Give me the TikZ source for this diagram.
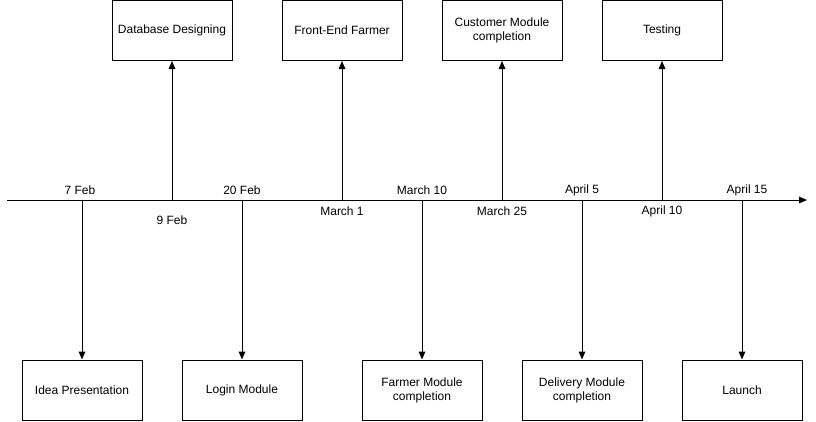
\documentclass[tikz,border=0pt]{standalone}
\usepackage{fontspec}
\setmainfont{Liberation Sans}
\usetikzlibrary{arrows.meta,positioning}

\tikzset{
  taskbox/.style={draw, line width=0.75pt, minimum width=90pt, minimum height=45pt, align=center, inner sep=0.75pt, font=\fontsize{9}{10.5}\selectfont},
  datelabel/.style={inner sep=0.75pt, font=\fontsize{9}{10.5}\selectfont},
  milestone/.style={line width=0.75pt, -{Triangle[length=6pt,width=5pt]}}
}

\begin{document}
\begin{tikzpicture}[x=0.75pt,y=0.75pt,yscale=-1,xscale=1]
\useasboundingbox (0,0) rectangle (816,421);

%Timeline
\coordinate (start) at (7,200);
\coordinate (end) at (807,200);
\draw [milestone] (start) -- (end);

%Points on the timeline
\coordinate (p1) at (82,200);
\coordinate (p2) at (172,200);
\coordinate (p3) at (242,200);
\coordinate (p4) at (342,200);
\coordinate (p5) at (422,200);
\coordinate (p6) at (502,200);
\coordinate (p7) at (582,200);
\coordinate (p8) at (662,200);
\coordinate (p9) at (742,200);

%Top boxes
\node [taskbox] (dbdesign) at (172,30.5) {Database Designing};
\node [taskbox] (frontend) at (342,30.5) {Front-End Farmer};
\node [taskbox] (customer) at (502,30.5) {Customer Module\\completion};
\node [taskbox] (testing) at (662,30.5) {Testing};

%Bottom boxes
\node [taskbox] (idea) at (82,390) {Idea Presentation};
\node [taskbox] (login) at (242,390) {Login Module};
\node [taskbox] (farmer) at (422,390) {Farmer Module\\completion};
\node [taskbox] (delivery) at (582,390) {Delivery Module\\completion};
\node [taskbox] (launch) at (742,390) {Launch};

%Connectors
\draw [milestone] (p1) -- (idea);
\draw [milestone] (p2) -- (dbdesign);
\draw [milestone] (p3) -- (login);
\draw [milestone] (p4) -- (frontend);
\draw [milestone] (p5) -- (farmer);
\draw [milestone] (p6) -- (customer);
\draw [milestone] (p7) -- (delivery);
\draw [milestone] (p8) -- (testing);
\draw [milestone] (p9) -- (launch);

% Text Node
\node [datelabel] (d1) at (80,190) {7 Feb};
% Text Node
\node [datelabel] (d2) at (172,220) {9 Feb};
% Text Node
\node [datelabel] (d3) at (242,190) {20 Feb};
% Text Node
\node [datelabel] (d4) at (342,211) {March 1};
% Text Node
\node [datelabel] (d5) at (422,190) {March 10};
% Text Node
\node [datelabel] (d6) at (502,211) {March 25};
% Text Node
\node [datelabel] (d7) at (582,190) {April 5};
% Text Node
\node [datelabel] (d8) at (662,211) {April 10};
% Text Node
\node [datelabel] (d9) at (747,190) {April 15};

\end{tikzpicture}
\end{document}
